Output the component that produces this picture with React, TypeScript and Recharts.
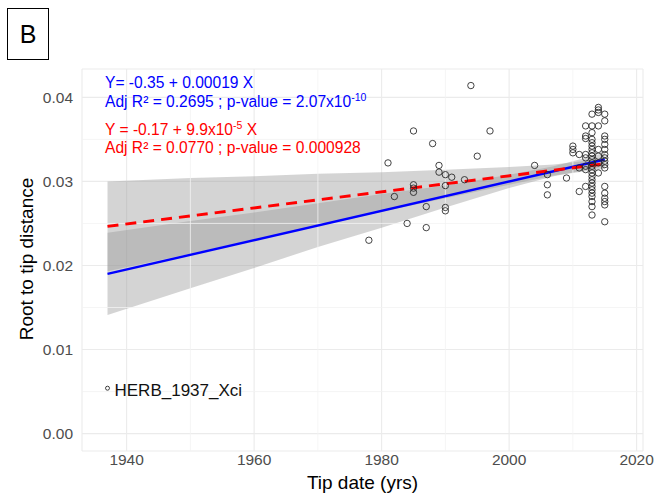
import React from "react";
import {
  ComposedChart,
  XAxis,
  YAxis,
  CartesianGrid,
  Area,
  Line,
  Scatter,
  ReferenceLine,
} from "recharts";

const W = 655;
const H = 498;
const FONT = "'Liberation Sans', Arial, sans-serif";

// tip dates and their root-to-tip distances
const tipYears = [
  1978, 1981, 1982, 1984, 1985, 1987, 1988, 1989, 1990, 1991, 1993, 1994, 1995,
  1997, 2004, 2006, 2009, 2010, 2011, 2012, 2013, 2014, 2015,
];
const tipDistances = [
  [0.023],
  [0.0322],
  [0.0282],
  [0.025],
  [0.036, 0.0296, 0.0292, 0.0287],
  [0.027, 0.0245],
  [0.0345],
  [0.0319, 0.0311],
  [0.0308, 0.0295, 0.0269, 0.0265],
  [0.0305],
  [0.0302],
  [0.0414],
  [0.033],
  [0.036],
  [0.0319],
  [0.0308, 0.0296, 0.0284],
  [0.0304],
  [0.0342, 0.0338, 0.0334],
  [0.0332, 0.0316, 0.0288],
  [0.0366, 0.0354, 0.0351, 0.0332, 0.0328, 0.0318, 0.0314, 0.0294],
  [
    0.038, 0.0366, 0.0358, 0.035, 0.0346, 0.0342, 0.0338, 0.0334, 0.033, 0.0326,
    0.0322, 0.0318, 0.0314, 0.031, 0.0306, 0.0302, 0.0298, 0.0294, 0.029,
    0.0286, 0.0282, 0.0276, 0.027, 0.026,
  ],
  [0.0388, 0.0385, 0.0382, 0.0366, 0.0338, 0.033, 0.0322, 0.031],
  [
    0.038, 0.0372, 0.0354, 0.035, 0.0344, 0.0338, 0.0332, 0.0328, 0.0324, 0.032,
    0.0316, 0.0294, 0.0286, 0.028, 0.0276, 0.0272, 0.0252,
  ],
];

const herbYear = 1937;
const herbDistance = 0.0054;
const herbName = "HERB_1937_Xci";

// confidence bands of the two fits
const bandYears = [1937, 1950, 1960, 1970, 1980, 1990, 2000, 2007, 2015];
const blueLow = [0.0141, 0.0173, 0.0197, 0.0222, 0.0245, 0.0269, 0.0292, 0.0306, 0.0318];
const blueHigh = [0.0239, 0.0253, 0.0263, 0.0274, 0.0285, 0.0295, 0.0308, 0.0318, 0.0334];
const redLow = [0.0193, 0.0214, 0.0231, 0.0247, 0.0264, 0.028, 0.0296, 0.0307, 0.0315];
const redHigh = [0.03, 0.0304, 0.0306, 0.0309, 0.0311, 0.0314, 0.0317, 0.032, 0.0327];

// fitted lines, end points
const fitYears = [1937, 2015];
const blueFit = [0.019, 0.0326];
const redFit = [0.02465, 0.0321];

const xTicks = [1940, 1960, 1980, 2000, 2020];
const xMinor = [1950, 1970, 1990, 2010];
const yTicks = [0, 0.01, 0.02, 0.03, 0.04];
const yMinor = [0.005, 0.015, 0.025, 0.035];

const tipData = tipYears.flatMap((yr, i) => tipDistances[i].map((d) => ({ x: yr, y: d })));
const herbData = [{ x: herbYear, y: herbDistance, name: herbName }];
const bandData = bandYears.map((yr, i) => ({
  x: yr,
  blue: [blueLow[i], blueHigh[i]],
  red: [redLow[i], redHigh[i]],
}));
const blueData = fitYears.map((yr, i) => ({ x: yr, y: blueFit[i] }));
const redData = fitYears.map((yr, i) => ({ x: yr, y: redFit[i] }));

const OpenCircle = (props: any) => (
  <circle cx={props.cx} cy={props.cy} r={3.2} fill="none" stroke="#222" strokeWidth={0.85} />
);

const HerbPoint = (props: any) => (
  <g>
    <circle cx={props.cx} cy={props.cy} r={2} fill="none" stroke="#222" strokeWidth={0.85} />
    <text x={props.cx + 7} y={props.cy + 8} fontSize={17} fill="#111" fontFamily={FONT}>
      {props.payload?.name}
    </text>
  </g>
);

const tickStyle = { fontSize: 15.5, fill: "#4d4d4d", fontFamily: FONT };

export default function App() {
  return (
    <div style={{ position: "absolute", left: 0, top: 0, width: W, height: H, background: "#fff" }}>
      <ComposedChart width={W} height={H} data={bandData} margin={{ top: 69, right: 12, bottom: 0, left: 0 }}>
        <CartesianGrid stroke="#ebebeb" strokeWidth={1.1} />
        <XAxis
          type="number"
          dataKey="x"
          domain={[1933, 2021]}
          ticks={xTicks}
          allowDataOverflow
          height={47}
          axisLine={false}
          tickLine={false}
          tickSize={0}
          tickMargin={3}
          tick={tickStyle}
        />
        <YAxis
          type="number"
          domain={[-0.00207, 0.04337]}
          ticks={yTicks}
          allowDataOverflow
          width={82}
          axisLine={false}
          tickLine={false}
          tickSize={0}
          tickMargin={9}
          tick={tickStyle}
          tickFormatter={(v: number) => v.toFixed(2)}
        />
        {yMinor.map((v) => (
          <ReferenceLine key={"y" + v} y={v} stroke="#f2f2f2" strokeWidth={0.8} />
        ))}
        {xMinor.map((v) => (
          <ReferenceLine key={"x" + v} x={v} stroke="#f2f2f2" strokeWidth={0.8} />
        ))}
        <Area
          dataKey="blue"
          type="linear"
          stroke="none"
          fill="#999999"
          fillOpacity={0.42}
          dot={false}
          activeDot={false}
          isAnimationActive={false}
        />
        <Area
          dataKey="red"
          type="linear"
          stroke="none"
          fill="#999999"
          fillOpacity={0.42}
          dot={false}
          activeDot={false}
          isAnimationActive={false}
        />
        <Scatter data={tipData} dataKey="y" shape={OpenCircle} isAnimationActive={false} />
        <Scatter data={herbData} dataKey="y" shape={HerbPoint} isAnimationActive={false} />
        <Line
          data={blueData}
          dataKey="y"
          type="linear"
          stroke="#0000ff"
          strokeWidth={2.4}
          dot={false}
          activeDot={false}
          isAnimationActive={false}
        />
        <Line
          data={redData}
          dataKey="y"
          type="linear"
          stroke="#ff0000"
          strokeWidth={3}
          strokeDasharray="11 7"
          dot={false}
          activeDot={false}
          isAnimationActive={false}
        />
      </ComposedChart>
      <svg
        width={W}
        height={H}
        style={{ position: "absolute", left: 0, top: 0, pointerEvents: "none" }}
        fontFamily={FONT}
      >
        <rect x={7.5} y={8.5} width={41} height={51} fill="none" stroke="#000" strokeWidth={1} />
        <text x={28} y={43} fontSize={25} textAnchor="middle" fill="#000">
          B
        </text>
        <g fontSize={15.6}>
          <text x={105} y={88} fill="#0000ff">
            Y= -0.35 + 0.00019 X
          </text>
          <text x={105} y={106.5} fill="#0000ff">
            Adj R² = 0.2695 ; p-value = 2.07x10
            <tspan dy={-6} fontSize={10.5}>
              -10
            </tspan>
          </text>
          <text x={105} y={134.5} fill="#ff0000">
            Y = -0.17 + 9.9x10
            <tspan dy={-6} fontSize={10.5}>
              -5
            </tspan>
            <tspan dy={6}> X</tspan>
          </text>
          <text x={105} y={153} fill="#ff0000">
            Adj R² = 0.0770 ; p-value = 0.000928
          </text>
        </g>
        <text x={362.5} y={489} fontSize={19} textAnchor="middle" fill="#000">
          Tip date (yrs)
        </text>
        <text x={33} y={259} fontSize={19} textAnchor="middle" fill="#000" transform="rotate(-90, 33, 259)">
          Root to tip distance
        </text>
      </svg>
    </div>
  );
}
